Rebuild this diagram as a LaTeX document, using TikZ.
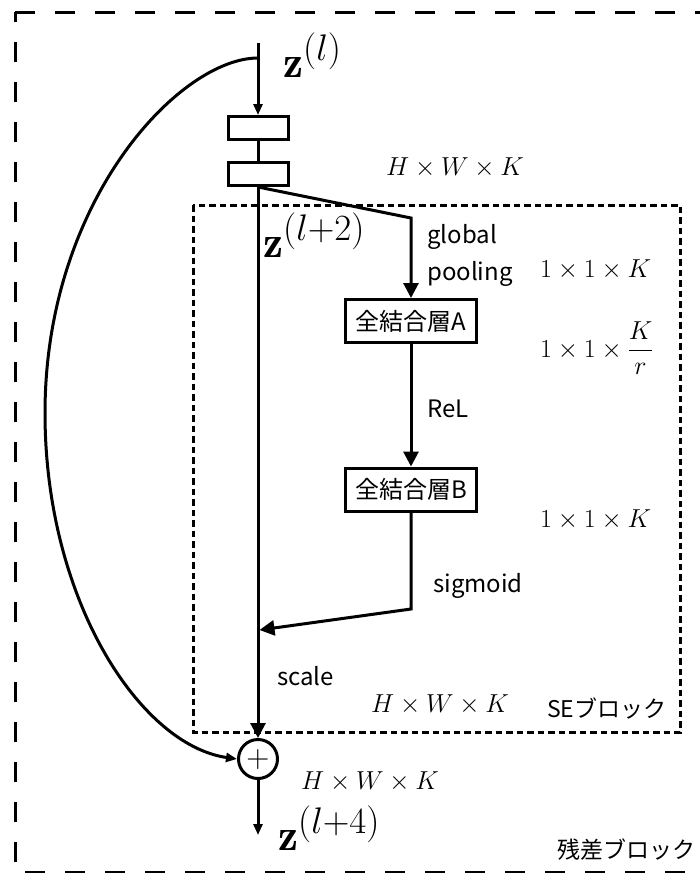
\RequirePackage{fix-cm}
\documentclass[tikz,border=0pt]{standalone}
\usepackage{fontspec}
\usetikzlibrary{arrows.meta}
\newfontfamily\jp{Noto Sans CJK JP}
\DeclareMathSizes{45}{45}{37}{30}
\DeclareMathSizes{26}{26}{18}{13}
\DeclareMathSizes{32}{32}{22}{16}
\newcommand{\bigmath}{\fontsize{45}{50}\selectfont}
\newcommand{\dimmath}{\fontsize{26}{30}\selectfont}
\newcommand{\plusmath}{\fontsize{32}{36}\selectfont}
\newcommand{\lbltext}{\jp\fontsize{24}{28}\selectfont}
\newcommand{\cjktext}{\jp\fontsize{23}{27}\selectfont}
\tikzset{
  wire/.style={line width=3pt},
  arrbig/.style={wire, -{Triangle[length=15pt,width=15pt]}},
  arrsmall/.style={wire, -{Triangle[length=11pt,width=9pt]}},
  layerbox/.style={draw, line width=3pt, inner sep=0pt, font=\lbltext},
  convbox/.style={layerbox, minimum width=60pt, minimum height=23pt},
  fcbox/.style={layerbox, minimum width=131pt, minimum height=43pt},
  sumnode/.style={draw, circle, line width=3pt, minimum size=39pt, inner sep=0pt, font=\plusmath},
  lbl/.style={anchor=base west, inner sep=0pt},
  outerdash/.style={line width=3pt, dash pattern=on 20pt off 20pt},
  sedash/.style={line width=3pt, dash pattern=on 6.5pt off 4pt},
}
\begin{document}
\begin{tikzpicture}[x=1pt,y=-1pt]
\useasboundingbox (0,0) rectangle (700,873);
\clip (0,0) rectangle (700,873);

% residual block frame (runs past the right edge)
\draw[outerdash] (15,12) -- (740,12);
\draw[outerdash, dash phase=10pt] (15,12) -- (15,872) -- (740,872);

% SE block frame
\draw[sedash] (193,205) rectangle (680,732);

% layers
\coordinate (in) at (258,43);
\coordinate (split) at (258,58);
\node[convbox] (c1) at (258,128) {};
\node[convbox] (c2) at (258,174) {};
\node[fcbox] (fcA) at (411,321) {全結合層A};
\node[fcbox] (fcB) at (411,489.5) {全結合層B};
\node[sumnode] (sum) at (258,759) {$+$};
\coordinate (pool) at (411,218);
\coordinate (sig) at (411,609);
\coordinate (scl) at (259.5,630);
\coordinate (out) at (258,835);

% connectors
\draw[arrsmall] (in) -- (c1);
\draw[wire] (c1) -- (c2);
\draw[arrbig] (c2) -- (sum);
\draw[arrbig] (c2.south) -- (pool) -- (fcA);
\draw[arrbig] (fcA) -- (fcB);
\draw[arrbig] (fcB) -- (sig) -- (scl);
\draw[arrsmall] (split) .. controls (180,58) and (45,200) .. (45,413)
  .. controls (45,600) and (140,745) .. (sum.west);
\draw[arrsmall] (sum) -- (out);

% tensor labels
\node[lbl, font=\bigmath] (zl) at (283,77) {$\mathbf{z}^{(l)}$};
\node[lbl, font=\bigmath] (zl2) at (263,257) {$\mathbf{z}^{(l+2)}$};
\node[lbl, font=\bigmath] (zl4) at (278,850) {$\mathbf{z}^{(l+4)}$};

% shape labels
\node[lbl, font=\dimmath] (d1) at (386,175) {$H\times W\times K$};
\node[lbl, font=\dimmath] (d2) at (540,277) {$1\times 1\times K$};
\node[lbl, font=\dimmath] (d3) at (540,357) {$1\times 1\times {\displaystyle\frac{K}{r}}$};
\node[lbl, font=\dimmath] (d4) at (540,527) {$1\times 1\times K$};
\node[lbl, font=\dimmath] (d5) at (371,712) {$H\times W\times K$};
\node[lbl, font=\dimmath] (d6) at (301,789) {$H\times W\times K$};

% operation labels
\node[lbl, font=\lbltext] (t1) at (427,243) {global};
\node[lbl, font=\lbltext] (t2) at (427,280) {pooling};
\node[lbl, font=\lbltext] (t3) at (427,417) {ReL};
\node[lbl, font=\lbltext] (t4) at (433,592) {sigmoid};
\node[lbl, font=\lbltext] (t5) at (277,685) {scale};
\node[lbl, font=\cjktext] (t6) at (547,717) {SEブロック};
\node[lbl, font=\cjktext] (t7) at (557,858) {残差ブロック};
\end{tikzpicture}
\end{document}
